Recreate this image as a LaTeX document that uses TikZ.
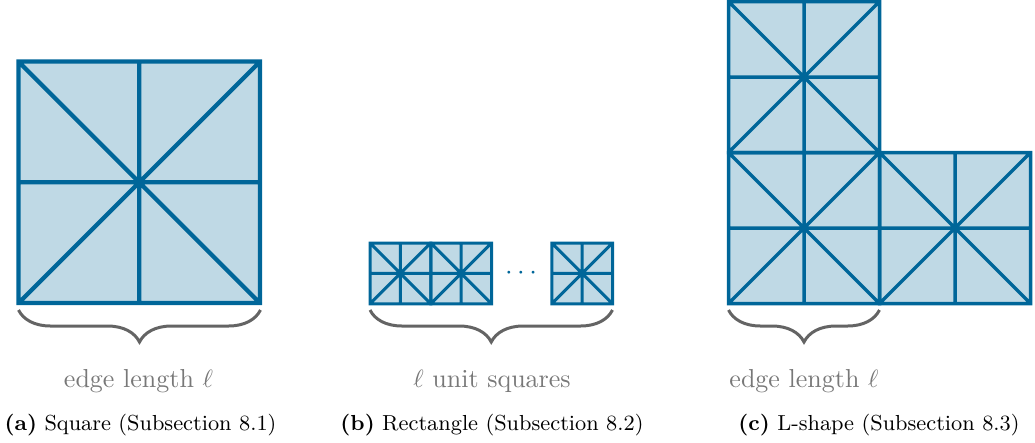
\documentclass[tikz,border=0pt]{standalone}
\usetikzlibrary{decorations.pathreplacing}
\definecolor{cellblue}{RGB}{0,102,153}
\colorlet{cellfill}{cellblue!25}
\definecolor{bracegray}{RGB}{100,100,100}
\definecolor{labelgray}{RGB}{120,120,120}
\newcommand\GridCell[3]{%
  \begin{scope}[shift={(#1,#2)}]
    \draw (0,0) rectangle (#3,#3)
      (#3/2,0) -- (#3/2,#3)
      (0,#3/2) -- (#3,#3/2)
      (0,0) -- (#3,#3)
      (#3,0) -- (0,#3);
  \end{scope}}
\begin{document}
\begin{tikzpicture}[x=0.4pt,y=-0.4pt,
  cellline/.style={color=cellblue, line join=miter},
  bracestyle/.style={draw=bracegray, line width=1.2pt, decorate,
    decoration={brace,mirror,amplitude=12.8pt}},
  lbl/.style={text=labelgray, font=\fontsize{10.4}{12}\selectfont, anchor=base, inner sep=0pt},
  capt/.style={font=\fontsize{8.7}{10}\selectfont, anchor=base, inner sep=0pt}]
\useasboundingbox (0,0) rectangle (1035,442);

% ---------- (a) square ----------
\fill[cellfill] (18.5,61.5) rectangle (260.5,303);
\begin{scope}[cellline, line width=1.7pt]
  \GridCell{18.5}{61.5}{241.5}
\end{scope}
\coordinate (a-l) at (18.5,310);
\coordinate (a-r) at (260.5,310);
\draw[bracestyle] (a-l) -- (a-r);
\node[lbl] (a-lbl) at (138.5,387) {edge length $\ell$};
\node[capt] (a-cap) at (140.5,430) {\textbf{(a)} Square (Subsection 8.1)};

% ---------- (b) rectangle ----------
\fill[cellfill] (370,243) rectangle (491.5,303.5);
\fill[cellfill] (551.75,243) rectangle (612.5,303.5);
\begin{scope}[cellline, line width=1.2pt]
  \GridCell{370}{243}{60.75}
  \GridCell{430.75}{243}{60.75}
  \GridCell{551.75}{243}{60.75}
\end{scope}
\node[text=cellblue, font=\fontsize{10.8}{12}\selectfont, anchor=base, inner sep=0pt] (dots) at (521,279) {$\cdots$};
\coordinate (b-l) at (370,310);
\coordinate (b-r) at (612.5,310);
\draw[bracestyle] (b-l) -- (b-r);
\node[lbl] (b-lbl) at (492,387) {$\ell$ unit squares};
\node[capt] (b-cap) at (492,430) {\textbf{(b)} Rectangle (Subsection 8.2)};

% ---------- (c) L-shape ----------
\fill[cellfill] (728.5,1.5) -- (879.5,1.5) -- (879.5,152.5) -- (1030.5,152.5)
  -- (1030.5,303.5) -- (728.5,303.5) -- cycle;
\begin{scope}[cellline, line width=1.4pt]
  \GridCell{728.5}{1.5}{151}
  \GridCell{728.5}{152.5}{151}
  \GridCell{879.5}{152.5}{151}
\end{scope}
\coordinate (c-l) at (728.5,310);
\coordinate (c-r) at (879.5,310);
\draw[bracestyle] (c-l) -- (c-r);
\node[lbl] (c-lbl) at (804,387) {edge length $\ell$};
\node[capt] (c-cap) at (879,430) {\textbf{(c)} L-shape (Subsection 8.3)};
\end{tikzpicture}
\end{document}
